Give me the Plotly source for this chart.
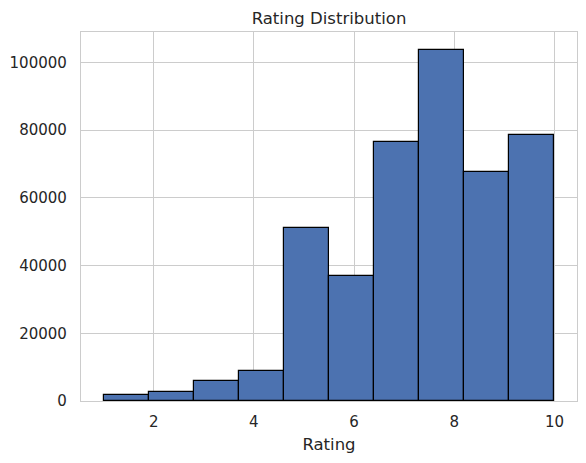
import plotly.graph_objects as go

# histogram bins (10 bins over 1..10) and counts
bin_edges = [1.0, 1.9, 2.8, 3.7, 4.6, 5.5, 6.4, 7.3, 8.2, 9.1, 10.0]
counts = [1800, 2700, 5900, 8900, 51000, 37000, 76500, 103800, 67600, 78500]

x_ticks = [2, 4, 6, 8, 10]
y_ticks = [0, 20000, 40000, 60000, 80000, 100000]

centers = [(a + b) / 2 for a, b in zip(bin_edges[:-1], bin_edges[1:])]
widths = [b - a for a, b in zip(bin_edges[:-1], bin_edges[1:])]

txt = "#262626"
grid = "#cccccc"

# page body has an 8px margin, so the figure is a bit smaller than the window
W, H = 578, 455

fig = go.Figure(go.Bar(
    x=centers, y=counts, width=widths,
    marker=dict(color="#4c72b0", line=dict(color="black", width=1.2)),
    hovertemplate="%{y}<extra></extra>",
))

fig.update_layout(
    width=W, height=H,
    margin=dict(l=73, r=9, t=24, b=62, autoexpand=False),
    paper_bgcolor="white", plot_bgcolor="white",
    font=dict(family="DejaVu Sans", color=txt, size=15),
    showlegend=False,
    title=dict(text="Rating Distribution", x=0.5, xref="paper",
               y=1 - 10 / H, yref="container", yanchor="middle",
               font=dict(size=16.5, color=txt)),
    bargap=0,
)
fig.update_xaxes(
    range=[0.55, 10.45], tickvals=x_ticks, ticktext=[str(v) for v in x_ticks],
    showgrid=True, gridcolor=grid, gridwidth=1, zeroline=False,
    showline=True, linecolor=grid, linewidth=1.3, mirror=True,
    ticks="", ticklabelstandoff=7, automargin=False,
    title=dict(text="Rating", font=dict(size=16.5, color=txt), standoff=8),
)
fig.update_yaxes(
    range=[0, 108990], tickvals=y_ticks, ticktext=[str(v) for v in y_ticks],
    showgrid=True, gridcolor=grid, gridwidth=1, zeroline=False,
    showline=True, linecolor=grid, linewidth=1.3, mirror=True,
    ticks="", ticklabelstandoff=10, automargin=False,
)

fig.write_html("out.html")
